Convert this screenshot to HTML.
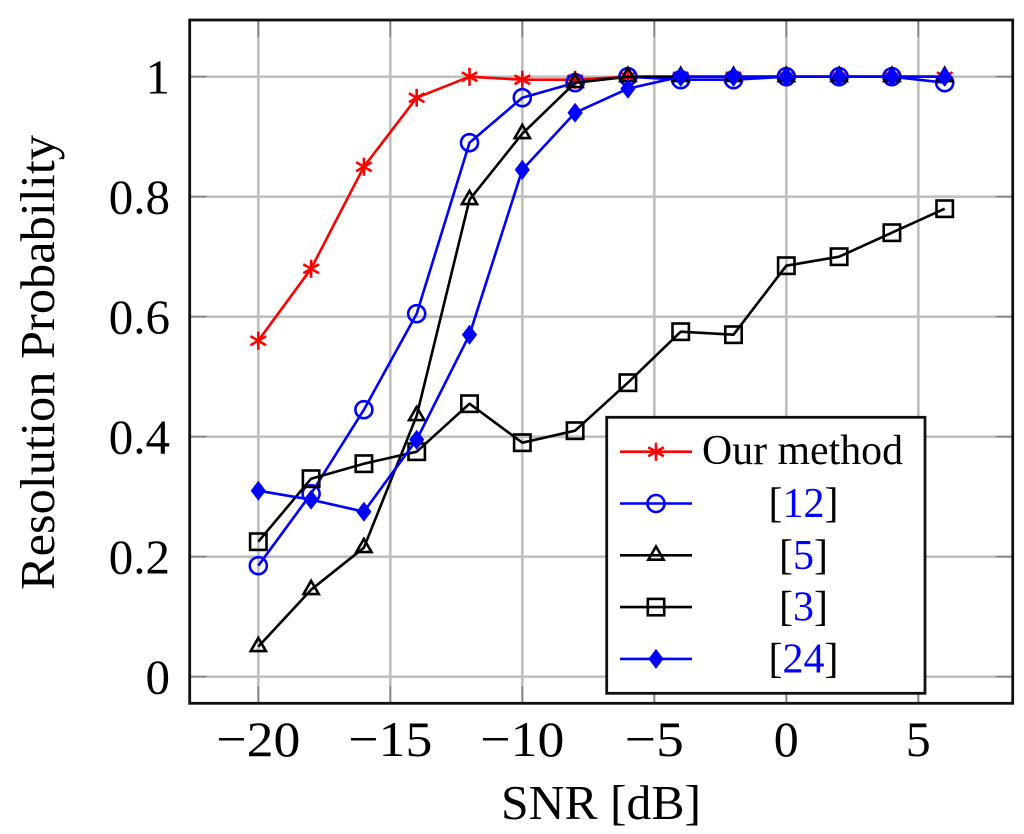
<!DOCTYPE html>
<html lang="en">
<head>
<meta charset="utf-8">
<title>Resolution Probability vs SNR</title>
<style>
html,body{margin:0;padding:0;background:#fff;}
svg{display:block;}
text{font-family:"Liberation Serif",serif;fill:#000;}
</style>
</head>
<body>
<svg id="chart" xmlns="http://www.w3.org/2000/svg" width="1024" height="834" viewBox="0 0 1024 834"></svg>
<script>
const snrValues = [-20,-18,-16,-14,-12,-10,-8,-6,-4,-2,0,2,4,6];
const xTicks = [-20,-15,-10,-5,0,5];
const xTickLabels = ['\u221220','\u221215','\u221210','\u22125','0','5'];
const yTicks = [0,0.2,0.4,0.6,0.8,1];
const yTickLabels = ['0','0.2','0.4','0.6','0.8','1'];
const ourMethod = [0.56,0.68,0.85,0.965,1,0.995,0.995,1,1,1,1,1,1,1];
const ref12 = [0.185,0.305,0.445,0.605,0.89,0.965,0.99,1,0.995,0.995,1,1,1,0.99];
const ref5 = [0.05,0.145,0.215,0.435,0.795,0.905,0.99,1,1,1,1,1,1,1];
const ref3 = [0.225,0.33,0.355,0.375,0.455,0.39,0.41,0.49,0.575,0.57,0.685,0.7,0.74,0.78];
const ref24 = [0.31,0.295,0.275,0.395,0.57,0.845,0.94,0.98,1,1,1,1,1,1];

const NS = 'http://www.w3.org/2000/svg';
const svg = document.getElementById('chart');
const plot = {left:189.7, right:1012.7, top:20, bottom:703.3};
function xScale(v){ return 786.3 + v * 26.4; }
function yScale(v){ return 676.7 - v * 600; }

function make(tag, parent, attrs){
  const el = document.createElementNS(NS, tag);
  for (const k in attrs) el.setAttribute(k, attrs[k]);
  parent.appendChild(el);
  return el;
}

function drawMarker(parent, shape, x, y, color){
  const g = make('g', parent, {fill:'none', stroke:color, 'stroke-width':2.6});
  if (shape === 'asterisk'){
    const r = 9;
    make('path', g, {d:`M${x} ${y-r}V${y+r}M${x-r*0.866} ${y-r/2}L${x+r*0.866} ${y+r/2}M${x-r*0.866} ${y+r/2}L${x+r*0.866} ${y-r/2}`});
  } else if (shape === 'circle'){
    make('circle', g, {cx:x, cy:y, r:8.5});
  } else if (shape === 'triangle'){
    const r = 8.8;
    make('path', g, {d:`M${x} ${y-r}L${x+r*0.866} ${y+r/2}L${x-r*0.866} ${y+r/2}Z`});
  } else if (shape === 'square'){
    make('rect', g, {x:x-8.2, y:y-8.2, width:16.4, height:16.4});
  } else if (shape === 'diamond'){
    make('path', g, {d:`M${x} ${y-10}L${x+7.6} ${y}L${x} ${y+10}L${x-7.6} ${y}Z`, fill:color, stroke:'none'});
  }
  return g;
}

/* grid */
const grid = make('g', svg, {stroke:'#c0c0c0', 'stroke-width':2.7});


xTicks.forEach(function(t){
  const l = make('line', grid, {x1:xScale(t), x2:xScale(t), y1:plot.top, y2:plot.bottom});
  
  
});
yTicks.forEach(function(t){
  const l = make('line', grid, {x1:plot.left, x2:plot.right, y1:yScale(t), y2:yScale(t)});
  
  
});

/* tick marks */
const ticks = make('g', svg, {stroke:'#777', 'stroke-width':1.2});


xTicks.forEach(function(t){
  make('line', ticks, {x1:xScale(t), x2:xScale(t), y1:plot.top, y2:plot.top+17});
  make('line', ticks, {x1:xScale(t), x2:xScale(t), y1:plot.bottom-17, y2:plot.bottom});
});
yTicks.forEach(function(t){
  make('line', ticks, {x1:plot.left, x2:plot.left+17, y1:yScale(t), y2:yScale(t)});
  make('line', ticks, {x1:plot.right-17, x2:plot.right, y1:yScale(t), y2:yScale(t)});
});

/* series */
function drawSeries(values, color, shape, name){
  const g = make('g', svg, {});
  
  
  const pts = values.map(function(v, i){ return xScale(snrValues[i]) + ',' + yScale(v); }).join(' ');
  make('polyline', g, {points:pts, fill:'none', stroke:color, 'stroke-width':2.6, 'stroke-linejoin':'round'});
  values.forEach(function(v, i){
    const m = drawMarker(g, shape, xScale(snrValues[i]), yScale(v), color);
    
    
  });
}
drawSeries(ourMethod, '#ff0000', 'asterisk', 'series-our-method');
drawSeries(ref12, '#0000ff', 'circle', 'series-ref-12');
drawSeries(ref5, '#000000', 'triangle', 'series-ref-5');
drawSeries(ref3, '#000000', 'square', 'series-ref-3');
drawSeries(ref24, '#0000ff', 'diamond', 'series-ref-24');

/* frame */
const frame = make('rect', svg, {x:plot.left, y:plot.top, width:plot.right-plot.left, height:plot.bottom-plot.top, fill:'none', stroke:'#111', 'stroke-width':2.8});



/* tick labels */
xTicks.forEach(function(t, i){
  const lab = make('text', svg, {x:xScale(t), y:756, 'font-size':50, 'text-anchor':'middle'});
  lab.textContent = xTickLabels[i];
  
  
  if (xTickLabels[i].length > 1) {
    lab.setAttribute('textLength', xTickLabels[i].length > 2 ? 84 : 59);
    lab.setAttribute('lengthAdjust', 'spacingAndGlyphs');
  }
});
yTicks.forEach(function(t, i){
  const lab = make('text', svg, {x:170, y:yScale(t)+17, 'font-size':49, 'text-anchor':'end'});
  lab.textContent = yTickLabels[i];
  
  
});

/* axis titles */
const xTitle = make('text', svg, {x:501, y:819, 'font-size':49, textLength:200, lengthAdjust:'spacingAndGlyphs'});
xTitle.textContent = 'SNR [dB]';


const yTitle = make('text', svg, {x:0, y:0, 'font-size':49, textLength:455, lengthAdjust:'spacingAndGlyphs', transform:'translate(54,590) rotate(-90)'});
yTitle.textContent = 'Resolution Probability';



/* legend */
const legendLabels = ['Our method','12','5','3','24'];
const legendColors = ['#ff0000','#0000ff','#000000','#000000','#0000ff'];
const legendShapes = ['asterisk','circle','triangle','square','diamond'];
const legendRows = [0,1,2,3,4];
const legend = make('g', svg, {});


make('rect', legend, {x:606.7, y:417.3, width:318.3, height:276, fill:'#fff', stroke:'#111', 'stroke-width':2.8});
legendRows.forEach(function(r){
  const y = 451.7 + r * 51.8;
  const row = make('g', legend, {});
  
  
  make('line', row, {x1:620, x2:692, y1:y, y2:y, stroke:legendColors[r], 'stroke-width':2.6});
  drawMarker(row, legendShapes[r], 656, y, legendColors[r]);
  if (r === 0){
    const t = make('text', row, {x:702, y:y+12.5, 'font-size':42, textLength:201, lengthAdjust:'spacingAndGlyphs'});
    t.textContent = legendLabels[r];
  } else {
    const t = make('text', row, {x:803.5, y:y+13.5, 'font-size':42, 'text-anchor':'middle'});
    const a = make('tspan', t, {});
    a.textContent = '[';
    const b = make('tspan', t, {style:'fill:#0000ff'});
    b.textContent = legendLabels[r];
    const c = make('tspan', t, {});
    c.textContent = ']';
  }
});
</script>
</body>
</html>
